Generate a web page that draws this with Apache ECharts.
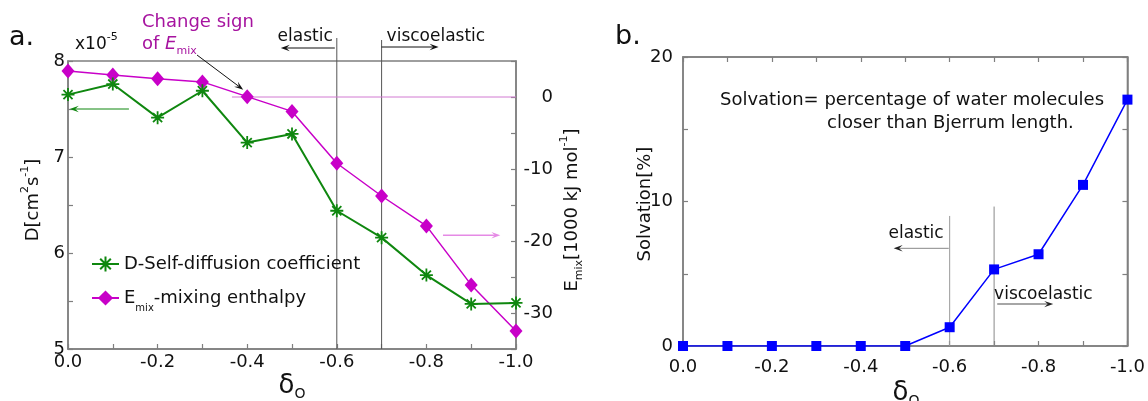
<!DOCTYPE html>
<html><head><meta charset="utf-8">
<script src="https://cdn.jsdelivr.net/npm/echarts@6/dist/echarts.min.js"></script>
<style>html,body{margin:0;padding:0;background:#fff}#c{width:1148px;height:401px}</style>
</head><body><div id="c"></div>
<script>
// ---- data ----
const deltaO = [0.0, -0.1, -0.2, -0.3, -0.4, -0.5, -0.6, -0.7, -0.8, -0.9, -1.0];
const diffusionD = [7.65, 7.76, 7.41, 7.69, 7.15, 7.24, 6.44, 6.16, 5.77, 5.47, 5.48];
const mixingEnthalpy = [3.6, 3.05, 2.55, 2.1, 0.05, -2.0, -9.2, -13.75, -17.9, -26.1, -32.5];
const solvation = [0, 0, 0, 0, 0, 0, 1.3, 5.3, 6.35, 11.15, 17.05];
const xTickLabels = ['0.0', '-0.2', '-0.4', '-0.6', '-0.8', '-1.0'];
const dTickLabels = ['5', '6', '7', '8'];
const emixTickLabels = ['-30', '-20', '-10', '0'];
const solvTickLabels = ['0', '10', '20'];

const FONT = 'DejaVu Sans';
const AX = '#7f7f7f';
const GREEN = '#0f870f';
const MAG = '#c800c8';
const BLUE = '#0000ff';
const TXT = '#111';
const STAR = 'path://M10,0L10,20M0,10L20,10M3,3L17,17M3,17L17,3';

const xLabel = v => { const k = Math.round(-v * 10); return k % 2 === 0 ? xTickLabels[k / 2] : ''; };
const dLabel = v => { const s = String(Math.round(v * 10) / 10); return dTickLabels.includes(s) ? s : ''; };
const eLabel = v => { const s = String(Math.round(v)); return emixTickLabels.includes(s) ? s : ''; };
const sLabel = v => { const s = String(Math.round(v)); return solvTickLabels.includes(s) ? s : ''; };

const tick = {inside: true, length: 5, lineStyle: {color: AX, width: 1.2}};
const line = {show: true, onZero: false, lineStyle: {color: AX, width: 1.5}};
const lab = (m, f, extra) => Object.assign({margin: m, fontSize: 18, color: TXT, fontFamily: FONT, formatter: f}, extra || {});

const chart = echarts.init(document.getElementById('c'), null, {renderer: 'canvas'});
chart.setOption({
  animation: false,
  backgroundColor: '#fff',
  textStyle: {fontFamily: FONT},
  grid: [
    {left: 68, top: 61, width: 448, height: 288, show: true, borderColor: AX, borderWidth: 1.5},
    {left: 683, top: 57, width: 447, height: 289, show: true, borderColor: AX, borderWidth: 1.5}
  ],
  xAxis: [
    {gridIndex: 0, type: 'value', inverse: true, min: -1, max: 0, interval: 0.1, axisLine: line, axisTick: tick,
     axisLabel: lab(4, xLabel), splitLine: {show: false}},
    {gridIndex: 1, type: 'value', inverse: true, min: -1, max: 0, interval: 0.1, axisLine: line, axisTick: tick,
     axisLabel: lab(12, xLabel), splitLine: {show: false}},
    {gridIndex: 1, type: 'value', position: 'top', inverse: true, min: -1, max: 0, interval: 0.1, axisLine: line, axisTick: tick,
     axisLabel: {show: false}, splitLine: {show: false}}
  ],
  yAxis: [
    {gridIndex: 0, type: 'value', position: 'left', min: 5, max: 8, interval: 0.5, axisLine: line, axisTick: tick,
     axisLabel: lab(3, dLabel), splitLine: {show: false}},
    {gridIndex: 0, type: 'value', position: 'right', min: -35, max: 5, interval: 5, axisLine: line, axisTick: tick,
     axisLabel: lab(37, eLabel, {align: 'right'}), splitLine: {show: false}},
    {gridIndex: 1, type: 'value', position: 'left', min: 0, max: 20, interval: 5, axisLine: line, axisTick: tick,
     axisLabel: lab(10, sLabel), splitLine: {show: false}},
    {gridIndex: 1, type: 'value', position: 'right', min: 0, max: 20, interval: 5, axisLine: line, axisTick: tick,
     axisLabel: {show: false}, splitLine: {show: false}}
  ],
  legend: {
    left: 86, top: 250, orient: 'vertical', itemGap: 16, itemWidth: 27, itemHeight: 19,
    data: ['D', 'Emix'],
    formatter: n => n === 'D' ? '{t|D-Self-diffusion coefficient}' : '{t|E}{b|mix}{t|-mixing enthalpy}',
    textStyle: {fontFamily: FONT, fontSize: 18, color: TXT,
      rich: {t: {fontSize: 18, fontFamily: FONT, color: TXT, lineHeight: 22},
             b: {fontSize: 10, fontFamily: FONT, color: TXT, verticalAlign: 'bottom', padding: [0, 0, -4, 0]}}}
  },
  series: [
    {name: 'D', type: 'line', xAxisIndex: 0, yAxisIndex: 0, z: 4,
     data: deltaO.map((x, i) => [x, diffusionD[i]]),
     symbol: STAR, symbolSize: 13, lineStyle: {color: GREEN, width: 2},
     itemStyle: {color: GREEN, borderColor: GREEN, borderWidth: 1.8}},
    {name: 'Emix', type: 'line', xAxisIndex: 0, yAxisIndex: 1, z: 3,
     data: deltaO.map((x, i) => [x, mixingEnthalpy[i]]),
     symbol: 'diamond', symbolSize: [13, 15], lineStyle: {color: MAG, width: 1.5},
     itemStyle: {color: MAG}},
    {name: 'Solvation', type: 'line', xAxisIndex: 1, yAxisIndex: 2, z: 3,
     data: deltaO.map((x, i) => [x, solvation[i]]),
     symbol: 'rect', symbolSize: 10, lineStyle: {color: BLUE, width: 1.5},
     itemStyle: {color: BLUE}}
  ]
});

// ---- annotations ----
const PD = (x, y) => chart.convertToPixel({seriesIndex: 0}, [x, y]);
const PE = (x, y) => chart.convertToPixel({seriesIndex: 1}, [x, y]);
const PS = (x, y) => chart.convertToPixel({seriesIndex: 2}, [x, y]);

function text(x, y, t, o) {
  o = o || {};
  const rich = {
    t: {fontSize: o.fs || 18, fontFamily: FONT, fill: o.color || TXT, lineHeight: 26},
    i: {fontSize: o.fs || 18, fontFamily: FONT, fill: o.color || TXT, fontStyle: 'italic', lineHeight: 26},
    p: {fontSize: 11, fontFamily: FONT, fill: o.color || TXT, verticalAlign: 'top'},
    b: {fontSize: 11, fontFamily: FONT, fill: o.color || TXT, verticalAlign: 'bottom'},
    d: {fontSize: 26, fontFamily: FONT, fill: TXT, lineHeight: 30},
    o: {fontSize: 14, fontFamily: FONT, fill: TXT, verticalAlign: 'bottom'}
  };
  return {type: 'text', x: x, y: y, rotation: o.rot || 0, z: 10,
    style: {text: t, rich: rich, fontSize: o.fs || 18, fontFamily: FONT, fill: o.color || TXT,
      align: o.align || 'left', verticalAlign: 'middle', textAlign: o.align || 'left', textVerticalAlign: 'middle'}};
}
function seg(p1, p2, color, lw) {
  return {type: 'line', z: 1, shape: {x1: p1[0], y1: p1[1], x2: p2[0], y2: p2[1]}, style: {stroke: color, lineWidth: lw}};
}
function arrow(p1, p2, color, lw, headColor) {
  const hl = 9, hw = 3.2;
  const a = Math.atan2(p2[1] - p1[1], p2[0] - p1[0]);
  const c = Math.cos(a), s = Math.sin(a);
  const bx = p2[0] - hl * c, by = p2[1] - hl * s;
  const nx = p2[0] - hl * 0.6 * c, ny = p2[1] - hl * 0.6 * s;
  return [
    {type: 'line', z: 5, shape: {x1: p1[0], y1: p1[1], x2: nx, y2: ny}, style: {stroke: color, lineWidth: lw}},
    {type: 'polygon', z: 5, shape: {points: [[p2[0], p2[1]], [bx - s * hw, by + c * hw], [nx, ny], [bx + s * hw, by - c * hw]]},
     style: {fill: headColor || color}}
  ];
}

const g = [];
// left panel
const topL = PD(0, 8)[1], botL = PD(0, 5)[1];
const x06 = PD(-0.6, 5)[0], x07 = PD(-0.7, 5)[0];
g.push(seg([x06, topL - 23], [x06, botL], '#555', 1));
g.push(seg([x07, topL - 21], [x07, botL], '#555', 1));
g.push(text(x06 - 4, topL - 24, '{t|elastic}', {align: 'right', fs: 17}));
g.push(...arrow([x06 - 2, topL - 13], [x06 - 56, topL - 13], '#111', 1));
g.push(text(x07 + 5, topL - 24, '{t|viscoelastic}', {fs: 17}));
g.push(...arrow([x07, topL - 14], [x07 + 57, topL - 14], '#111', 1));
g.push(seg(PE(-0.366, 0), PE(-1, 0), '#d27ad2', 1));
g.push(...arrow(PD(-0.136, 7.5), PD(-0.004, 7.5), GREEN, 1));
g.push(...arrow(PE(-0.837, -19.2), PE(-0.965, -19.2), '#e58ae5', 1.5));
const pe4 = PE(-0.4, mixingEnthalpy[4]);
g.push(...arrow([197, 55], [pe4[0] - 4, pe4[1] - 7], '#111', 1));
g.push(text(142, 22, '{t|Change sign}', {color: '#a6139f', fs: 18}));
g.push(text(142, 44, '{t|of }{i|E}{b|mix}', {color: '#a6139f', fs: 18}));
g.push(text(9, 38, '{t|a.}', {fs: 27}));
g.push(text(75, 45, '{t|x10}{p|-5}', {fs: 17}));
g.push(text(33, 200, '{t|D[cm}{p|2}{t|s}{p|-1}{t|]}', {rot: Math.PI / 2, align: 'center'}));
g.push(text(572, 210, '{t|E}{b|mix}{t|[1000 kJ mol}{p|-1}{t|]}', {rot: Math.PI / 2, align: 'center'}));
g.push(text(292, 386, '{d|δ}{o|O}', {align: 'center'}));

// right panel
const s06 = PS(-0.6, 0), s07 = PS(-0.7, 0);
g.push(seg(PS(-0.6, 9.0), s06, '#999', 1));
g.push(seg(PS(-0.7, 9.65), s07, '#888', 1));
g.push(text(s06[0] - 6, PS(-0.6, 7.8)[1], '{t|elastic}', {align: 'right', fs: 17}));
g.push(...arrow(PS(-0.598, 6.76), PS(-0.474, 6.76), '#888', 1, '#222'));
g.push(text(s07[0], PS(-0.7, 3.59)[1], '{t|viscoelastic}', {fs: 17}));
g.push(...arrow(PS(-0.707, 2.9), PS(-0.833, 2.9), '#888', 1.5, '#222'));
g.push(text(720, 100, '{t|Solvation= percentage of water molecules}', {fs: 18}));
g.push(text(827, 123, '{t|closer than Bjerrum length.}', {fs: 18}));
g.push(text(615, 37, '{t|b.}', {fs: 27}));
g.push(text(645, 204, '{t|Solvation[%]}', {rot: Math.PI / 2, align: 'center'}));
g.push(text(906, 393, '{d|δ}{o|O}', {align: 'center'}));

chart.setOption({graphic: {elements: g}});
</script>
</body></html>
